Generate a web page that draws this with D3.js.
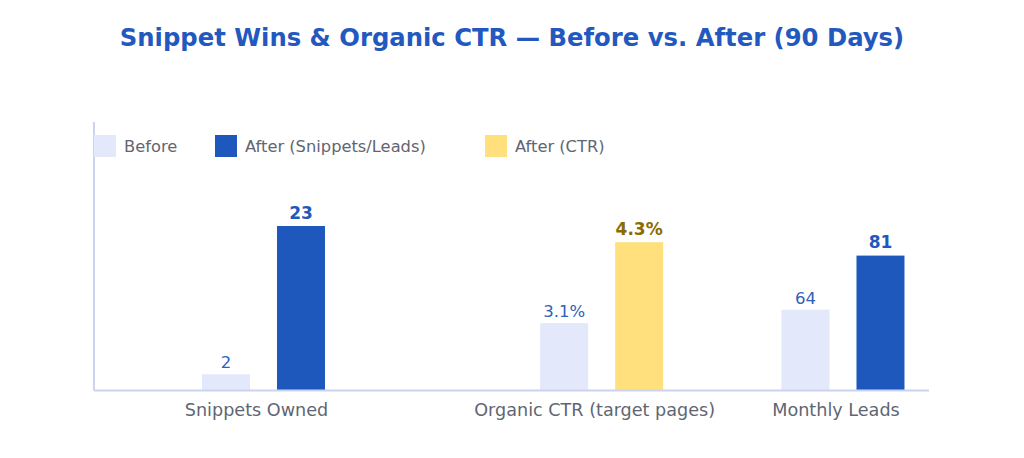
<!DOCTYPE html>
<html>
<head>
<meta charset="utf-8">
<script src="https://cdn.jsdelivr.net/npm/d3@7"></script>
<style>
  html, body { margin: 0; padding: 0; background: #ffffff; }
  svg { display: block; font-family: "DejaVu Sans", sans-serif; }
</style>
</head>
<body>
<svg id="chart" width="1024" height="458"></svg>
<script>
// ---- data ----
const title = "Snippet Wins & Organic CTR \u2014 Before vs. After (90 Days)";
const categories = ["Snippets Owned", "Organic CTR (target pages)", "Monthly Leads"];
const seriesNames = ["Before", "After (Snippets/Leads)", "After (CTR)"];
const beforeValues = [2, 3.1, 64];
const afterValues = [23, 4.3, 81];
const afterSeries = ["After (Snippets/Leads)", "After (CTR)", "After (Snippets/Leads)"];
const beforeLabels = ["2", "3.1%", "64"];
const afterLabels = ["23", "4.3%", "81"];
// each metric is drawn on its own value scale (lower bound, upper bound)
const metricDomains = [[-0.3, 23], [2.1, 4.54], [38.6, 90.3]];

// ---- styles ----
const colors = {
  "Before": "#E3E8FB",
  "After (Snippets/Leads)": "#1F58BD",
  "After (CTR)": "#FFE07C"
};
const labelColors = {
  "Before": "#2E62B8",
  "After (Snippets/Leads)": "#1F58BD",
  "After (CTR)": "#8A6C00"
};

const svg = d3.select("#chart");
const margin = {left: 94, right: 95, top: 122, bottom: 67.5};
const W = 1024, H = 458;
const x0 = margin.left, x1 = W - margin.right;
const yBase = H - margin.bottom;

// category positions along the axis (relative placement of groups)
const xCat = d3.scaleOrdinal()
  .domain(categories)
  .range([0.194, 0.599, 0.888].map(f => x0 + f * (x1 - x0)));

// pair of bars within a group
const xInner = d3.scaleBand().domain([0, 1]).range([-54, 69]).paddingInner(0.36);

// per-metric y scales
const yTop = 226;
const yScales = metricDomains.map(d => d3.scaleLinear().domain(d).range([yBase, yTop]));

// title
svg.append("text")
  .attr("x", W / 2).attr("y", 46)
  .attr("text-anchor", "middle")
  .attr("font-size", 24.3).attr("font-weight", "bold")
  .attr("fill", "#2359BE")
  .text(title);

// axes
svg.append("line")
  .attr("x1", x0).attr("x2", x0).attr("y1", margin.top).attr("y2", yBase)
  .attr("stroke", "#CBD3EF").attr("stroke-width", 2);

const xAxis = d3.axisBottom(xCat).tickSize(0).tickPadding(13);
const gx = svg.append("g").attr("transform", `translate(0,${yBase})`).call(xAxis);
gx.select(".domain").remove();
gx.selectAll("text")
  .attr("font-size", 17.6).attr("fill", "#5F6673")
  .attr("font-family", "DejaVu Sans, sans-serif");

// bars
const rows = categories.map((c, i) => ([
  {cat: c, i, slot: 0, series: "Before", value: beforeValues[i], label: beforeLabels[i]},
  {cat: c, i, slot: 1, series: afterSeries[i], value: afterValues[i], label: afterLabels[i]}
])).flat();

svg.append("g").selectAll("rect").data(rows).join("rect")
  .attr("x", d => xCat(d.cat) + xInner(d.slot))
  .attr("width", xInner.bandwidth())
  .attr("y", d => yScales[d.i](d.value))
  .attr("height", d => yBase - yScales[d.i](d.value))
  .attr("fill", d => colors[d.series]);

svg.append("g").selectAll("text").data(rows).join("text")
  .attr("x", d => xCat(d.cat) + xInner(d.slot) + xInner.bandwidth() / 2)
  .attr("y", d => yScales[d.i](d.value) - (d.slot === 0 ? 6 : 7.5))
  .attr("text-anchor", "middle")
  .attr("font-size", d => d.slot === 0 ? 16.5 : 17)
  .attr("font-weight", d => d.slot === 0 ? "normal" : "bold")
  .attr("fill", d => labelColors[d.series])
  .text(d => d.label);

// baseline
svg.append("line")
  .attr("x1", x0).attr("x2", x1).attr("y1", yBase).attr("y2", yBase)
  .attr("stroke", "#CBD3EF").attr("stroke-width", 2);

// legend
const legendX = d3.scaleOrdinal().domain(seriesNames).range([94, 215, 485]);
const lg = svg.append("g").selectAll("g").data(seriesNames).join("g")
  .attr("transform", d => `translate(${legendX(d)},135)`);
lg.append("rect").attr("width", 22).attr("height", 22).attr("fill", d => colors[d]);
lg.append("text").attr("x", 30).attr("y", 17)
  .attr("font-size", 16.3).attr("fill", "#5F6673")
  .text(d => d);
</script>
</body>
</html>
